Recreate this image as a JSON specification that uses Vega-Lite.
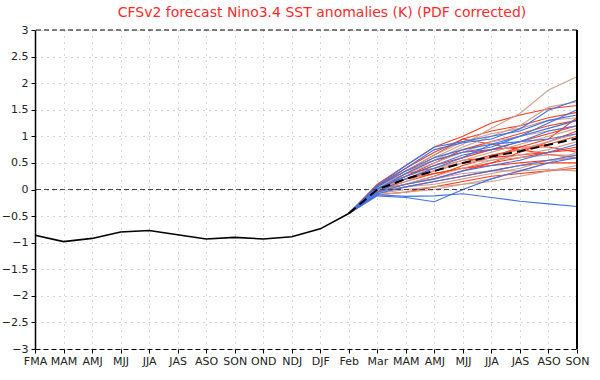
{
  "$schema": "https://vega.github.io/schema/vega-lite/v6.json",
  "width": 542,
  "height": 319,
  "autosize": {"type": "none"},
  "padding": {"left": 35, "top": 30, "right": 23, "bottom": 31},
  "background": "white",
  "title": {"text": "CFSv2 forecast Nino3.4 SST anomalies (K) (PDF corrected)", "color": "#ff2a2a", "font": "DejaVu Sans", "fontSize": 14, "fontWeight": "normal", "offset": 4, "dx": 16},
  "config": {
    "view": {"stroke": null},
    "axis": {"labelFont": "DejaVu Sans", "labelFontSize": 11, "labelColor": "#222", "grid": true, "gridColor": "#aaaaaa", "gridDash": [1, 5], "gridWidth": 1, "tickColor": "#000", "tickSize": 4, "domainColor": "#000", "title": null}
  },
  "datasets": {
    "one": [{"k": 1}],
    "obs": [
      {"x": 0, "v": -0.86}, {"x": 1, "v": -0.98}, {"x": 2, "v": -0.92}, {"x": 3, "v": -0.8},
      {"x": 4, "v": -0.77}, {"x": 5, "v": -0.85}, {"x": 6, "v": -0.93}, {"x": 7, "v": -0.9},
      {"x": 8, "v": -0.93}, {"x": 9, "v": -0.89}, {"x": 10, "v": -0.74}, {"x": 11, "v": -0.45}
    ],
    "mean": [
      {"x": 11, "v": -0.45}, {"x": 12, "v": 0.0}, {"x": 13, "v": 0.2}, {"x": 14, "v": 0.35},
      {"x": 15, "v": 0.5}, {"x": 16, "v": 0.62}, {"x": 17, "v": 0.72}, {"x": 18, "v": 0.84}, {"x": 19, "v": 0.96}
    ],
    "ens": [
      {"g":"n","m":"n1","x":11,"v":-0.45},{"g":"n","m":"n1","x":12,"v":0.0},{"g":"n","m":"n1","x":13,"v":0.3},{"g":"n","m":"n1","x":14,"v":0.6},{"g":"n","m":"n1","x":15,"v":0.85},{"g":"n","m":"n1","x":16,"v":1.15},{"g":"n","m":"n1","x":17,"v":1.43},{"g":"n","m":"n1","x":18,"v":1.87},{"g":"n","m":"n1","x":19,"v":2.12},
      {"g":"n","m":"n2","x":11,"v":-0.45},{"g":"n","m":"n2","x":12,"v":0.02},{"g":"n","m":"n2","x":13,"v":0.3},{"g":"n","m":"n2","x":14,"v":0.55},{"g":"n","m":"n2","x":15,"v":0.8},{"g":"n","m":"n2","x":16,"v":1.0},{"g":"n","m":"n2","x":17,"v":1.2},{"g":"n","m":"n2","x":18,"v":1.55},{"g":"n","m":"n2","x":19,"v":1.65},
      {"g":"n","m":"n3","x":11,"v":-0.45},{"g":"n","m":"n3","x":12,"v":-0.05},{"g":"n","m":"n3","x":13,"v":0.1},{"g":"n","m":"n3","x":14,"v":0.2},{"g":"n","m":"n3","x":15,"v":0.3},{"g":"n","m":"n3","x":16,"v":0.35},{"g":"n","m":"n3","x":17,"v":0.35},{"g":"n","m":"n3","x":18,"v":0.38},{"g":"n","m":"n3","x":19,"v":0.35},
      {"g":"n","m":"n4","x":11,"v":-0.45},{"g":"n","m":"n4","x":12,"v":-0.08},{"g":"n","m":"n4","x":13,"v":0.0},{"g":"n","m":"n4","x":14,"v":0.05},{"g":"n","m":"n4","x":15,"v":0.1},{"g":"n","m":"n4","x":16,"v":0.15},{"g":"n","m":"n4","x":17,"v":0.25},{"g":"n","m":"n4","x":18,"v":0.35},{"g":"n","m":"n4","x":19,"v":0.45},
      {"g":"n","m":"n5","x":11,"v":-0.45},{"g":"n","m":"n5","x":12,"v":0.0},{"g":"n","m":"n5","x":13,"v":0.15},{"g":"n","m":"n5","x":14,"v":0.35},{"g":"n","m":"n5","x":15,"v":0.5},{"g":"n","m":"n5","x":16,"v":0.6},{"g":"n","m":"n5","x":17,"v":0.75},{"g":"n","m":"n5","x":18,"v":0.9},{"g":"n","m":"n5","x":19,"v":1.05},
      {"g":"n","m":"n6","x":11,"v":-0.45},{"g":"n","m":"n6","x":12,"v":0.04},{"g":"n","m":"n6","x":13,"v":0.3},{"g":"n","m":"n6","x":14,"v":0.5},{"g":"n","m":"n6","x":15,"v":0.7},{"g":"n","m":"n6","x":16,"v":0.9},{"g":"n","m":"n6","x":17,"v":1.0},{"g":"n","m":"n6","x":18,"v":1.1},{"g":"n","m":"n6","x":19,"v":1.2},
      {"g":"n","m":"n7","x":11,"v":-0.45},{"g":"n","m":"n7","x":12,"v":-0.02},{"g":"n","m":"n7","x":13,"v":0.1},{"g":"n","m":"n7","x":14,"v":0.25},{"g":"n","m":"n7","x":15,"v":0.4},{"g":"n","m":"n7","x":16,"v":0.55},{"g":"n","m":"n7","x":17,"v":0.65},{"g":"n","m":"n7","x":18,"v":0.75},{"g":"n","m":"n7","x":19,"v":0.9},
      {"g":"n","m":"n8","x":11,"v":-0.45},{"g":"n","m":"n8","x":12,"v":0.05},{"g":"n","m":"n8","x":13,"v":0.25},{"g":"n","m":"n8","x":14,"v":0.4},{"g":"n","m":"n8","x":15,"v":0.5},{"g":"n","m":"n8","x":16,"v":0.55},{"g":"n","m":"n8","x":17,"v":0.6},{"g":"n","m":"n8","x":18,"v":0.65},{"g":"n","m":"n8","x":19,"v":0.65},
      {"g":"n","m":"n9","x":11,"v":-0.45},{"g":"n","m":"n9","x":12,"v":-0.1},{"g":"n","m":"n9","x":13,"v":-0.05},{"g":"n","m":"n9","x":14,"v":0.0},{"g":"n","m":"n9","x":15,"v":0.1},{"g":"n","m":"n9","x":16,"v":0.2},{"g":"n","m":"n9","x":17,"v":0.35},{"g":"n","m":"n9","x":18,"v":0.5},{"g":"n","m":"n9","x":19,"v":0.7},
      {"g":"n","m":"n10","x":11,"v":-0.45},{"g":"n","m":"n10","x":12,"v":0.03},{"g":"n","m":"n10","x":13,"v":0.35},{"g":"n","m":"n10","x":14,"v":0.65},{"g":"n","m":"n10","x":15,"v":0.9},{"g":"n","m":"n10","x":16,"v":1.05},{"g":"n","m":"n10","x":17,"v":1.15},{"g":"n","m":"n10","x":18,"v":1.3},{"g":"n","m":"n10","x":19,"v":1.35},
      {"g":"n","m":"n11","x":11,"v":-0.45},{"g":"n","m":"n11","x":12,"v":0.0},{"g":"n","m":"n11","x":13,"v":0.2},{"g":"n","m":"n11","x":14,"v":0.4},{"g":"n","m":"n11","x":15,"v":0.55},{"g":"n","m":"n11","x":16,"v":0.7},{"g":"n","m":"n11","x":17,"v":0.85},{"g":"n","m":"n11","x":18,"v":1.0},{"g":"n","m":"n11","x":19,"v":1.15},
      {"g":"n","m":"n12","x":11,"v":-0.45},{"g":"n","m":"n12","x":12,"v":-0.05},{"g":"n","m":"n12","x":13,"v":0.05},{"g":"n","m":"n12","x":14,"v":0.1},{"g":"n","m":"n12","x":15,"v":0.2},{"g":"n","m":"n12","x":16,"v":0.3},{"g":"n","m":"n12","x":17,"v":0.4},{"g":"n","m":"n12","x":18,"v":0.55},{"g":"n","m":"n12","x":19,"v":0.6},
      {"g":"r","m":"r1","x":11,"v":-0.45},{"g":"r","m":"r1","x":12,"v":0.1},{"g":"r","m":"r1","x":13,"v":0.45},{"g":"r","m":"r1","x":14,"v":0.8},{"g":"r","m":"r1","x":15,"v":1.0},{"g":"r","m":"r1","x":16,"v":1.25},{"g":"r","m":"r1","x":17,"v":1.4},{"g":"r","m":"r1","x":18,"v":1.52},{"g":"r","m":"r1","x":19,"v":1.58},
      {"g":"r","m":"r2","x":11,"v":-0.45},{"g":"r","m":"r2","x":12,"v":0.08},{"g":"r","m":"r2","x":13,"v":0.4},{"g":"r","m":"r2","x":14,"v":0.7},{"g":"r","m":"r2","x":15,"v":0.95},{"g":"r","m":"r2","x":16,"v":1.1},{"g":"r","m":"r2","x":17,"v":1.2},{"g":"r","m":"r2","x":18,"v":1.35},{"g":"r","m":"r2","x":19,"v":1.45},
      {"g":"r","m":"r3","x":11,"v":-0.45},{"g":"r","m":"r3","x":12,"v":0.05},{"g":"r","m":"r3","x":13,"v":0.35},{"g":"r","m":"r3","x":14,"v":0.65},{"g":"r","m":"r3","x":15,"v":0.95},{"g":"r","m":"r3","x":16,"v":0.85},{"g":"r","m":"r3","x":17,"v":0.75},{"g":"r","m":"r3","x":18,"v":0.66},{"g":"r","m":"r3","x":19,"v":0.6},
      {"g":"r","m":"r4","x":11,"v":-0.45},{"g":"r","m":"r4","x":12,"v":0.0},{"g":"r","m":"r4","x":13,"v":0.2},{"g":"r","m":"r4","x":14,"v":0.35},{"g":"r","m":"r4","x":15,"v":0.5},{"g":"r","m":"r4","x":16,"v":0.65},{"g":"r","m":"r4","x":17,"v":0.75},{"g":"r","m":"r4","x":18,"v":0.85},{"g":"r","m":"r4","x":19,"v":1.0},
      {"g":"r","m":"r5","x":11,"v":-0.45},{"g":"r","m":"r5","x":12,"v":-0.02},{"g":"r","m":"r5","x":13,"v":0.15},{"g":"r","m":"r5","x":14,"v":0.3},{"g":"r","m":"r5","x":15,"v":0.4},{"g":"r","m":"r5","x":16,"v":0.5},{"g":"r","m":"r5","x":17,"v":0.6},{"g":"r","m":"r5","x":18,"v":0.7},{"g":"r","m":"r5","x":19,"v":0.75},
      {"g":"r","m":"r6","x":11,"v":-0.45},{"g":"r","m":"r6","x":12,"v":0.05},{"g":"r","m":"r6","x":13,"v":0.25},{"g":"r","m":"r6","x":14,"v":0.45},{"g":"r","m":"r6","x":15,"v":0.6},{"g":"r","m":"r6","x":16,"v":0.75},{"g":"r","m":"r6","x":17,"v":0.9},{"g":"r","m":"r6","x":18,"v":1.05},{"g":"r","m":"r6","x":19,"v":1.2},
      {"g":"r","m":"r7","x":11,"v":-0.45},{"g":"r","m":"r7","x":12,"v":0.03},{"g":"r","m":"r7","x":13,"v":0.2},{"g":"r","m":"r7","x":14,"v":0.3},{"g":"r","m":"r7","x":15,"v":0.4},{"g":"r","m":"r7","x":16,"v":0.45},{"g":"r","m":"r7","x":17,"v":0.5},{"g":"r","m":"r7","x":18,"v":0.55},{"g":"r","m":"r7","x":19,"v":0.6},
      {"g":"r","m":"r8","x":11,"v":-0.45},{"g":"r","m":"r8","x":12,"v":-0.05},{"g":"r","m":"r8","x":13,"v":0.05},{"g":"r","m":"r8","x":14,"v":0.15},{"g":"r","m":"r8","x":15,"v":0.25},{"g":"r","m":"r8","x":16,"v":0.35},{"g":"r","m":"r8","x":17,"v":0.45},{"g":"r","m":"r8","x":18,"v":0.5},{"g":"r","m":"r8","x":19,"v":0.5},
      {"g":"r","m":"r9","x":11,"v":-0.45},{"g":"r","m":"r9","x":12,"v":0.0},{"g":"r","m":"r9","x":13,"v":0.1},{"g":"r","m":"r9","x":14,"v":0.2},{"g":"r","m":"r9","x":15,"v":0.35},{"g":"r","m":"r9","x":16,"v":0.5},{"g":"r","m":"r9","x":17,"v":0.7},{"g":"r","m":"r9","x":18,"v":0.9},{"g":"r","m":"r9","x":19,"v":1.1},
      {"g":"r","m":"r10","x":11,"v":-0.45},{"g":"r","m":"r10","x":12,"v":0.07},{"g":"r","m":"r10","x":13,"v":0.35},{"g":"r","m":"r10","x":14,"v":0.55},{"g":"r","m":"r10","x":15,"v":0.7},{"g":"r","m":"r10","x":16,"v":0.75},{"g":"r","m":"r10","x":17,"v":0.8},{"g":"r","m":"r10","x":18,"v":0.8},{"g":"r","m":"r10","x":19,"v":0.7},
      {"g":"r","m":"r11","x":11,"v":-0.45},{"g":"r","m":"r11","x":12,"v":-0.1},{"g":"r","m":"r11","x":13,"v":-0.05},{"g":"r","m":"r11","x":14,"v":0.05},{"g":"r","m":"r11","x":15,"v":0.15},{"g":"r","m":"r11","x":16,"v":0.25},{"g":"r","m":"r11","x":17,"v":0.3},{"g":"r","m":"r11","x":18,"v":0.35},{"g":"r","m":"r11","x":19,"v":0.4},
      {"g":"r","m":"r12","x":11,"v":-0.45},{"g":"r","m":"r12","x":12,"v":0.02},{"g":"r","m":"r12","x":13,"v":0.25},{"g":"r","m":"r12","x":14,"v":0.5},{"g":"r","m":"r12","x":15,"v":0.75},{"g":"r","m":"r12","x":16,"v":0.9},{"g":"r","m":"r12","x":17,"v":1.05},{"g":"r","m":"r12","x":18,"v":1.2},{"g":"r","m":"r12","x":19,"v":1.3},
      {"g":"r","m":"r13","x":11,"v":-0.45},{"g":"r","m":"r13","x":12,"v":0.06},{"g":"r","m":"r13","x":13,"v":0.3},{"g":"r","m":"r13","x":14,"v":0.4},{"g":"r","m":"r13","x":15,"v":0.55},{"g":"r","m":"r13","x":16,"v":0.6},{"g":"r","m":"r13","x":17,"v":0.65},{"g":"r","m":"r13","x":18,"v":0.7},{"g":"r","m":"r13","x":19,"v":0.8},
      {"g":"r","m":"r14","x":11,"v":-0.45},{"g":"r","m":"r14","x":12,"v":-0.03},{"g":"r","m":"r14","x":13,"v":0.1},{"g":"r","m":"r14","x":14,"v":0.25},{"g":"r","m":"r14","x":15,"v":0.45},{"g":"r","m":"r14","x":16,"v":0.6},{"g":"r","m":"r14","x":17,"v":0.8},{"g":"r","m":"r14","x":18,"v":0.95},{"g":"r","m":"r14","x":19,"v":1.35},
      {"g":"b","m":"b1","x":11,"v":-0.45},{"g":"b","m":"b1","x":12,"v":0.05},{"g":"b","m":"b1","x":13,"v":0.4},{"g":"b","m":"b1","x":14,"v":0.75},{"g":"b","m":"b1","x":15,"v":0.88},{"g":"b","m":"b1","x":16,"v":0.95},{"g":"b","m":"b1","x":17,"v":1.14},{"g":"b","m":"b1","x":18,"v":1.49},{"g":"b","m":"b1","x":19,"v":1.68},
      {"g":"b","m":"b2","x":11,"v":-0.45},{"g":"b","m":"b2","x":12,"v":0.0},{"g":"b","m":"b2","x":13,"v":0.3},{"g":"b","m":"b2","x":14,"v":0.55},{"g":"b","m":"b2","x":15,"v":0.7},{"g":"b","m":"b2","x":16,"v":0.8},{"g":"b","m":"b2","x":17,"v":1.0},{"g":"b","m":"b2","x":18,"v":1.25},{"g":"b","m":"b2","x":19,"v":1.5},
      {"g":"b","m":"b3","x":11,"v":-0.45},{"g":"b","m":"b3","x":12,"v":-0.05},{"g":"b","m":"b3","x":13,"v":0.2},{"g":"b","m":"b3","x":14,"v":0.4},{"g":"b","m":"b3","x":15,"v":0.6},{"g":"b","m":"b3","x":16,"v":0.85},{"g":"b","m":"b3","x":17,"v":1.0},{"g":"b","m":"b3","x":18,"v":1.15},{"g":"b","m":"b3","x":19,"v":1.3},
      {"g":"b","m":"b4","x":11,"v":-0.45},{"g":"b","m":"b4","x":12,"v":-0.1},{"g":"b","m":"b4","x":13,"v":-0.13},{"g":"b","m":"b4","x":14,"v":-0.12},{"g":"b","m":"b4","x":15,"v":-0.08},{"g":"b","m":"b4","x":16,"v":-0.15},{"g":"b","m":"b4","x":17,"v":-0.22},{"g":"b","m":"b4","x":18,"v":-0.27},{"g":"b","m":"b4","x":19,"v":-0.32},
      {"g":"b","m":"b5","x":11,"v":-0.45},{"g":"b","m":"b5","x":12,"v":-0.12},{"g":"b","m":"b5","x":13,"v":-0.15},{"g":"b","m":"b5","x":14,"v":-0.23},{"g":"b","m":"b5","x":15,"v":0.0},{"g":"b","m":"b5","x":16,"v":0.2},{"g":"b","m":"b5","x":17,"v":0.35},{"g":"b","m":"b5","x":18,"v":0.5},{"g":"b","m":"b5","x":19,"v":0.6},
      {"g":"b","m":"b6","x":11,"v":-0.45},{"g":"b","m":"b6","x":12,"v":0.02},{"g":"b","m":"b6","x":13,"v":0.25},{"g":"b","m":"b6","x":14,"v":0.45},{"g":"b","m":"b6","x":15,"v":0.65},{"g":"b","m":"b6","x":16,"v":0.75},{"g":"b","m":"b6","x":17,"v":0.9},{"g":"b","m":"b6","x":18,"v":1.1},{"g":"b","m":"b6","x":19,"v":1.2},
      {"g":"b","m":"b7","x":11,"v":-0.45},{"g":"b","m":"b7","x":12,"v":-0.05},{"g":"b","m":"b7","x":13,"v":0.1},{"g":"b","m":"b7","x":14,"v":0.2},{"g":"b","m":"b7","x":15,"v":0.35},{"g":"b","m":"b7","x":16,"v":0.45},{"g":"b","m":"b7","x":17,"v":0.55},{"g":"b","m":"b7","x":18,"v":0.7},{"g":"b","m":"b7","x":19,"v":0.85},
      {"g":"b","m":"b8","x":11,"v":-0.45},{"g":"b","m":"b8","x":12,"v":0.05},{"g":"b","m":"b8","x":13,"v":0.35},{"g":"b","m":"b8","x":14,"v":0.6},{"g":"b","m":"b8","x":15,"v":0.75},{"g":"b","m":"b8","x":16,"v":0.85},{"g":"b","m":"b8","x":17,"v":0.9},{"g":"b","m":"b8","x":18,"v":0.95},{"g":"b","m":"b8","x":19,"v":1.05},
      {"g":"b","m":"b9","x":11,"v":-0.45},{"g":"b","m":"b9","x":12,"v":-0.08},{"g":"b","m":"b9","x":13,"v":0.05},{"g":"b","m":"b9","x":14,"v":0.15},{"g":"b","m":"b9","x":15,"v":0.25},{"g":"b","m":"b9","x":16,"v":0.35},{"g":"b","m":"b9","x":17,"v":0.45},{"g":"b","m":"b9","x":18,"v":0.55},{"g":"b","m":"b9","x":19,"v":0.65},
      {"g":"b","m":"b10","x":11,"v":-0.45},{"g":"b","m":"b10","x":12,"v":0.08},{"g":"b","m":"b10","x":13,"v":0.45},{"g":"b","m":"b10","x":14,"v":0.8},{"g":"b","m":"b10","x":15,"v":0.9},{"g":"b","m":"b10","x":16,"v":1.0},{"g":"b","m":"b10","x":17,"v":1.1},{"g":"b","m":"b10","x":18,"v":1.3},{"g":"b","m":"b10","x":19,"v":1.4}
    ]
  },
  "encoding": {
    "x": {"type": "quantitative", "scale": {"domain": [0, 19], "nice": false, "zero": false},
          "axis": {"values": [0,1,2,3,4,5,6,7,8,9,10,11,12,13,14,15,16,17,18,19], "labelExpr": "['FMA','MAM','AMJ','MJJ','JJA','JAS','ASO','SON','OND','NDJ','DJF','Feb','Mar','MAM','AMJ','MJJ','JJA','JAS','ASO','SON'][datum.value]", "labelOverlap": false, "labelFlush": false, "domainDash": [5, 3], "domainWidth": 1.2, "labelPadding": 2, "title": null}},
    "y": {"type": "quantitative", "scale": {"domain": [-3, 3], "nice": false},
          "axis": {"values": [-3,-2.5,-2,-1.5,-1,-0.5,0,0.5,1,1.5,2,2.5,3], "format": "~g", "labelOverlap": false, "domainWidth": 1.5, "labelPadding": 3, "title": null}}
  },
  "layer": [
    {
      "data": {"name": "ens"},
      "transform": [{"filter": "datum.g === 'r'"}],
      "mark": {"type": "line", "color": "#ff3a1c", "strokeWidth": 1.1},
      "encoding": {"x": {"field": "x"}, "y": {"field": "v"}, "detail": {"field": "m"}}
    },
    {
      "data": {"name": "ens"},
      "transform": [{"filter": "datum.g === 'n'"}],
      "mark": {"type": "line", "color": "#cf9f8e", "strokeWidth": 1.1},
      "encoding": {"x": {"field": "x"}, "y": {"field": "v"}, "detail": {"field": "m"}}
    },
    {
      "data": {"name": "ens"},
      "transform": [{"filter": "datum.g === 'b'"}],
      "mark": {"type": "line", "color": "#3f72e6", "strokeWidth": 1.1},
      "encoding": {"x": {"field": "x"}, "y": {"field": "v"}, "detail": {"field": "m"}}
    },
    {
      "data": {"name": "one"},
      "mark": {"type": "rule", "color": "#444", "strokeDash": [5, 3], "strokeWidth": 1},
      "encoding": {"x": null, "y": {"datum": 0}}
    },
    {
      "data": {"name": "one"},
      "mark": {"type": "rule", "color": "#000", "strokeDash": [5, 3], "strokeWidth": 1.2},
      "encoding": {"x": null, "y": {"datum": 3}}
    },
    {
      "data": {"name": "one"},
      "mark": {"type": "rule", "color": "#000", "strokeWidth": 2},
      "encoding": {"x": {"datum": 19}, "y": null}
    },
    {
      "data": {"name": "obs"},
      "mark": {"type": "line", "color": "#000", "strokeWidth": 1.6},
      "encoding": {"x": {"field": "x"}, "y": {"field": "v"}}
    },
    {
      "data": {"name": "mean"},
      "mark": {"type": "line", "color": "#000", "strokeWidth": 2, "strokeDash": [9, 5]},
      "encoding": {"x": {"field": "x"}, "y": {"field": "v"}}
    }
  ]
}
